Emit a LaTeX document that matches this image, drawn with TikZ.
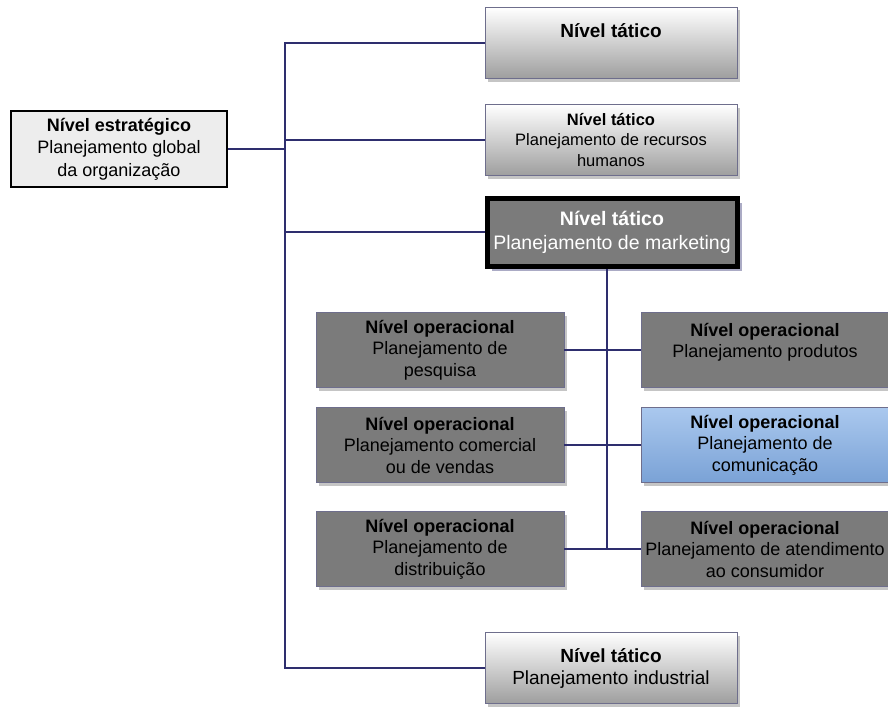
\documentclass[tikz,border=0pt]{standalone}
\usepackage{fontspec}
\setmainfont{Liberation Sans}
\usepackage{tikz}
\usetikzlibrary{shadows, calc}

\definecolor{navy1}{RGB}{46, 46, 110}
\definecolor{edge1}{RGB}{110, 110, 140}
\definecolor{opgray}{RGB}{123, 123, 123}
\definecolor{sky1}{RGB}{170, 200, 238}
\definecolor{sky2}{RGB}{122, 162, 214}

\tikzset{
  link/.style={draw=navy1, line width=1.1pt},
  box/.style={draw=edge1, line width=0.6pt, align=center, inner sep=1pt,
    font=\fontsize{18}{21.5}\selectfont,
    drop shadow={shadow xshift=3pt, shadow yshift=-3pt, fill=black!45}},
  tatico/.style={box, top color=white, bottom color=black!38,
    font=\fontsize{19}{22}\selectfont,
    minimum width=252pt, minimum height=71pt},
  operac/.style={box, fill=opgray, minimum width=248pt, minimum height=75pt},
}

\begin{document}
\begin{tikzpicture}[x=1pt, y=-1pt]
  \useasboundingbox (0,0) rectangle (888,709);

  % strategic level
  \node[draw=black, line width=2.6pt, fill=black!7, align=center,
    minimum width=216pt, minimum height=76pt, inner sep=1pt,
    font=\fontsize{18}{22.5}\selectfont]
    (estrat) at (119,149)
    {\textbf{Nível estratégico}\\Planejamento global\\da organização};

  % tactical level
  \node[tatico] (tat1) at (611,43) {\textbf{Nível tático}\\[2pt]};
  \node[tatico, font=\fontsize{16.5}{20.5}\selectfont] (tat2) at (611,140)
    {\textbf{Nível tático}\\Planejamento de recursos\\humanos};
  \node[draw=black, line width=5pt, fill=opgray, text=white, align=center,
    minimum width=250pt, minimum height=68pt, inner sep=1pt,
    font=\fontsize{19.5}{24}\selectfont,
    drop shadow={shadow xshift=5pt, shadow yshift=-5pt, fill=navy1!80}]
    (mkt) at (612,232)
    {\textbf{Nível tático}\\Planejamento de marketing};
  \node[tatico] (tat3) at (611,668)
    {\textbf{Nível tático}\\Planejamento industrial};

  % operational level
  \node[operac] (op1) at (440,350)
    {\textbf{Nível operacional}\\Planejamento de\\pesquisa};
  \node[operac] (op2) at (440,445)
    {\textbf{Nível operacional}\\Planejamento comercial\\ou de vendas};
  \node[operac] (op3) at (440,549)
    {\textbf{Nível operacional}\\Planejamento de\\distribuição};
  \node[operac] (op4) at (765,350)
    {\textbf{Nível operacional}\\Planejamento produtos\\[-2pt]};
  \node[operac, fill=none, top color=sky1, bottom color=sky2] (op5) at (765,445)
    {\textbf{Nível operacional}\\Planejamento de\\comunicação};
  \node[operac] (op6) at (765,549)
    {\textbf{Nível operacional}\\Planejamento de atendimento\\ao consumidor};

  % connectors
  \coordinate (bus) at (285,149);
  \draw[link] (estrat.east) -- (bus);
  \draw[link] (tat1.west) -- (tat1.west -| bus) -- (tat3.west -| bus) -- (tat3.west);
  \draw[link] (tat2.west) -- (tat2.west -| bus);
  \draw[link] (mkt.west) -- (mkt.west -| bus);

  \coordinate (mid) at ($(mkt.south)+(-5,0)$);
  \draw[link] (mid) -- (mid |- op3.east);
  \draw[link] (op1.east) -- (op4.west);
  \draw[link] (op2.east) -- (op5.west);
  \draw[link] (op3.east) -- (op6.west);
\end{tikzpicture}
\end{document}
